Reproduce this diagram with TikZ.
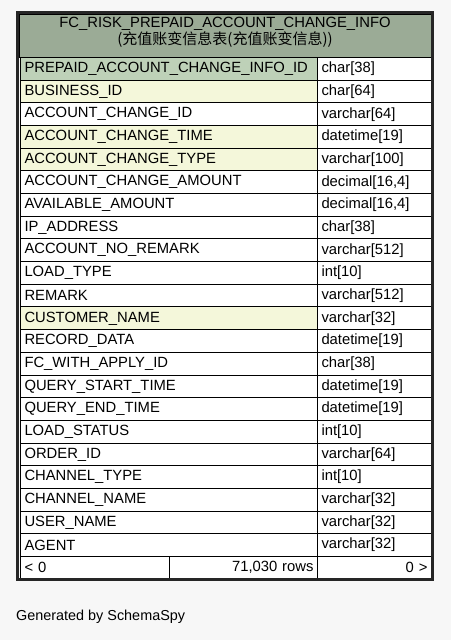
\documentclass[tikz,border=0pt]{standalone}
\usepackage{fontspec}
\setmainfont{Liberation Sans}
\newfontfamily\cjkfont{Noto Sans CJK SC}
\usetikzlibrary{positioning}
\definecolor{headgreen}{HTML}{9BAB96}
\definecolor{pkgreen}{HTML}{BED1B8}
\definecolor{idxyellow}{HTML}{F4F7DA}
\definecolor{pagebg}{HTML}{F7F7F7}

\begin{document}
\begin{tikzpicture}
[x=1pt,y=-1pt,
cell/.style={rectangle,draw=black,line width=1pt,fill=white,
inner xsep=4pt,inner ysep=0pt,minimum height=22.68pt,anchor=north west,
font=\fontsize{14.8}{16}\selectfont},
colname/.style={cell,minimum width=297pt,text width=289pt,align=left},
coltype/.style={cell,minimum width=114pt,text width=106pt,align=left},
pk/.style={fill=pkgreen},
idx/.style={fill=idxyellow},
plain/.style={},
foot/.style={cell,minimum height=22.5pt},
label text/.style={inner sep=0pt,font=\fontsize{14.8}{16}\selectfont}]

\useasboundingbox (0,0) rectangle (451,640);
\fill [pagebg] (0,0) rectangle (451,640);

% table head
\node [cell,fill=headgreen,minimum width=412pt,minimum height=43pt] (head) at (19,14) {};
\node [label text] (title) at (225,24) {FC\_RISK\_PREPAID\_ACCOUNT\_CHANGE\_INFO};
\node [inner sep=0pt,font=\cjkfont\fontsize{15}{16}\selectfont] (comment) at (225,39.5)
{(充值账变信息表(充值账变信息))};

% columns
\foreach \name/\type/\kind [count=\i from 0] in {
PREPAID\_ACCOUNT\_CHANGE\_INFO\_ID/char[38]/pk,
BUSINESS\_ID/char[64]/idx,
ACCOUNT\_CHANGE\_ID/varchar[64]/plain,
ACCOUNT\_CHANGE\_TIME/datetime[19]/idx,
ACCOUNT\_CHANGE\_TYPE/varchar[100]/idx,
ACCOUNT\_CHANGE\_AMOUNT/{decimal[16,4]}/plain,
AVAILABLE\_AMOUNT/{decimal[16,4]}/plain,
IP\_ADDRESS/char[38]/plain,
ACCOUNT\_NO\_REMARK/varchar[512]/plain,
LOAD\_TYPE/int[10]/plain,
REMARK/varchar[512]/plain,
CUSTOMER\_NAME/varchar[32]/idx,
RECORD\_DATA/datetime[19]/plain,
FC\_WITH\_APPLY\_ID/char[38]/plain,
QUERY\_START\_TIME/datetime[19]/plain,
QUERY\_END\_TIME/datetime[19]/plain,
LOAD\_STATUS/int[10]/plain,
ORDER\_ID/varchar[64]/plain,
CHANNEL\_TYPE/int[10]/plain,
CHANNEL\_NAME/varchar[32]/plain,
USER\_NAME/varchar[32]/plain,
AGENT/varchar[32]/plain}
{
\node [colname,\kind] (c\i) at (20,57+\i*22.68) {\name};
\node [coltype] (t\i) at (317,57+\i*22.68) {\type};
}

% footer
\node [foot,minimum width=149pt,text width=141pt,align=left] (prev) at (20,556) {< 0};
\node [foot,minimum width=148pt,text width=140pt,align=right] (rows) at (169,556) {71,030 rows};
\node [foot,minimum width=114pt,text width=106pt,align=right] (next) at (317,556) {0 >};

% outer frame
\draw [line width=3pt,draw=black!85] (17.5,12.5) rectangle (432.5,579.5);

\node [label text,font=\fontsize{14.4}{16}\selectfont,anchor=west] (gen) at (16,617) {Generated by SchemaSpy};
\end{tikzpicture}
\end{document}
